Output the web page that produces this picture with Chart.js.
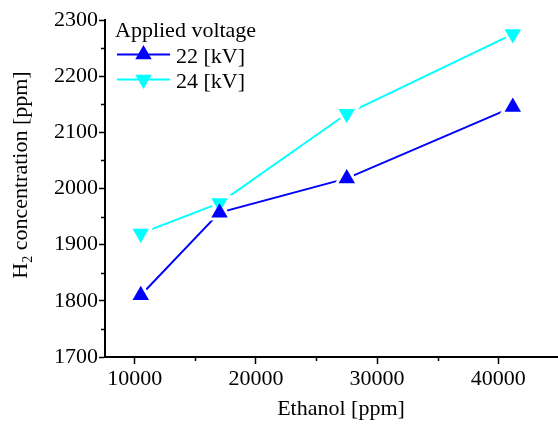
<!DOCTYPE html>
<html>
<head>
<meta charset="utf-8">
<script src="https://cdn.jsdelivr.net/npm/chart.js@4.4.0/dist/chart.umd.min.js"></script>
<style>
  html, body { margin: 0; padding: 0; background: #fff; overflow: hidden; }
  #wrap { width: 558px; height: 425px; }
  #chart { display: block; }
</style>
</head>
<body>
<div id="wrap"><canvas id="chart" width="558" height="425"></canvas></div>
<script>
// Ethanol feed vs. H2 produced, two discharge voltages
const ethanol = [10500, 17000, 27500, 41200];
const h2At22kV = [1810, 1957, 2018, 2145];
const h2At24kV = [1920, 1974, 2133, 2275];
const seriesLabels = ['22 [kV]', '24 [kV]'];
const legendTitle = 'Applied voltage';

const xTicks = [10000, 20000, 30000, 40000];
const yTicks = [1700, 1800, 1900, 2000, 2100, 2200, 2300];
const xMinorTicks = [15000, 25000, 35000];
const yMinorTicks = [1750, 1850, 1950, 2050, 2150, 2250];

const FONT = "'Liberation Serif', 'Times New Roman', serif";
const BLUE = '#0000ff';
const CYAN = '#00ffff';

const toPoints = ys => ys.map((y, i) => ({ x: ethanol[i], y: y }));

// white halo under each marker so the lines stop short of the symbols
const markerGaps = {
  id: 'markerGaps',
  afterDatasetsDraw(chart) {
    const ctx = chart.ctx;
    const metas = chart.getSortedVisibleDatasetMetas();
    ctx.save();
    ctx.fillStyle = '#fff';
    metas.forEach(meta => {
      meta.data.forEach(pt => {
        const o = pt.options;
        Chart.helpers.drawPoint(ctx, {
          pointStyle: o.pointStyle, rotation: o.rotation,
          radius: o.radius + 6, borderWidth: 0
        }, pt.x, pt.y);
      });
    });
    metas.slice().reverse().forEach(meta => {
      meta.data.forEach(pt => pt.draw(ctx, chart.chartArea));
    });
    ctx.restore();
  }
};

const minorTicks = {
  id: 'minorTicks',
  afterDraw(chart) {
    const { ctx, chartArea, scales } = chart;
    ctx.save();
    ctx.strokeStyle = '#000';
    ctx.lineWidth = 1.5;
    ctx.beginPath();
    xMinorTicks.forEach(v => {
      const px = Math.round(scales.x.getPixelForValue(v)) + 0.5;
      ctx.moveTo(px, chartArea.bottom);
      ctx.lineTo(px, chartArea.bottom + 4);
    });
    yMinorTicks.forEach(v => {
      const py = Math.round(scales.y.getPixelForValue(v)) + 0.5;
      ctx.moveTo(chartArea.left, py);
      ctx.lineTo(chartArea.left - 4, py);
    });
    ctx.stroke();
    ctx.restore();
  }
};

const axisTitles = {
  id: 'axisTitles',
  afterDraw(chart) {
    const { ctx } = chart;
    ctx.save();
    ctx.fillStyle = '#000';
    ctx.textBaseline = 'alphabetic';

    // x title
    ctx.font = `22px ${FONT}`;
    ctx.textAlign = 'center';
    ctx.fillText('Ethanol [ppm]', 341, 415);

    // y title with subscript
    const big = `22px ${FONT}`;
    const small = `14px ${FONT}`;
    const rest = ' concentration [ppm]';
    ctx.font = big;
    const wH = ctx.measureText('H').width;
    const wRest = ctx.measureText(rest).width;
    ctx.font = small;
    const w2 = ctx.measureText('2').width;
    const total = wH + w2 + wRest;
    ctx.translate(27, 175);
    ctx.rotate(-Math.PI / 2);
    ctx.textAlign = 'left';
    let x = -total / 2;
    ctx.font = big;
    ctx.fillText('H', x, 0);
    x += wH;
    ctx.font = small;
    ctx.fillText('2', x, 5);
    x += w2;
    ctx.font = big;
    ctx.fillText(rest, x, 0);
    ctx.restore();
  }
};

const legendBox = {
  id: 'legendBox',
  afterDraw(chart) {
    const { ctx, chartArea } = chart;
    const x0 = chartArea.left + 10;
    ctx.save();
    ctx.font = `22px ${FONT}`;
    ctx.fillStyle = '#000';
    ctx.textBaseline = 'alphabetic';
    ctx.textAlign = 'left';
    ctx.fillText(legendTitle, x0, chartArea.top + 16.5);
    chart.data.datasets.forEach((ds, i) => {
      const y = chartArea.top + 34.5 + i * 25;
      ctx.strokeStyle = ds.borderColor;
      ctx.lineWidth = ds.borderWidth;
      ctx.beginPath();
      ctx.moveTo(x0 + 2, y);
      ctx.lineTo(x0 + 55, y);
      ctx.stroke();
      ctx.fillStyle = ds.pointBackgroundColor;
      Chart.helpers.drawPoint(ctx, {
        pointStyle: 'triangle', rotation: ds.pointRotation,
        radius: ds.pointRadius, borderWidth: 0
      }, x0 + 28.5, y);
      ctx.fillStyle = '#000';
      ctx.fillText(ds.label, x0 + 61, y + 8.7);
    });
    ctx.restore();
  }
};

const tickFont = { family: FONT, size: 22 };

new Chart(document.getElementById('chart'), {
  type: 'line',
  data: {
    datasets: [
      {
        label: seriesLabels[0],
        data: toPoints(h2At22kV),
        borderColor: BLUE,
        borderWidth: 2,
        pointBackgroundColor: BLUE,
        pointBorderWidth: 0,
        pointStyle: 'triangle',
        pointRotation: 0,
        pointRadius: 9.5,
        tension: 0
      },
      {
        label: seriesLabels[1],
        data: toPoints(h2At24kV),
        borderColor: CYAN,
        borderWidth: 2,
        pointBackgroundColor: CYAN,
        pointBorderWidth: 0,
        pointStyle: 'triangle',
        pointRotation: 180,
        pointRadius: 9.5,
        tension: 0
      }
    ]
  },
  options: {
    responsive: false,
    animation: false,
    layout: { autoPadding: false, padding: { top: 20, right: 0, bottom: 0, left: 0 } },
    plugins: {
      legend: { display: false },
      tooltip: { enabled: false }
    },
    scales: {
      x: {
        type: 'linear',
        min: 7550,
        max: 44930,
        afterBuildTicks: s => { s.ticks = xTicks.map(v => ({ value: v })); },
        afterFit: s => { s.height = 68; s.paddingLeft = 0; s.paddingRight = 0; },
        grid: { drawOnChartArea: false, drawTicks: true, tickLength: 7, tickWidth: 1.5, tickColor: '#000' },
        border: { display: true, color: '#000', width: 2 },
        ticks: { font: tickFont, color: '#000', padding: 2, maxRotation: 0, autoSkip: false, callback: v => String(v) }
      },
      y: {
        type: 'linear',
        min: 1700,
        max: 2300,
        afterBuildTicks: s => { s.ticks = yTicks.map(v => ({ value: v })); },
        afterFit: s => { s.width = 105; s.paddingTop = 0; s.paddingBottom = 0; },
        grid: { drawOnChartArea: false, drawTicks: true, tickLength: 6, tickWidth: 1.5, tickColor: '#000' },
        border: { display: true, color: '#000', width: 2 },
        ticks: { font: tickFont, color: '#000', padding: 1, autoSkip: false, callback: v => String(v) }
      }
    }
  },
  plugins: [markerGaps, minorTicks, axisTitles, legendBox]
});
</script>
</body>
</html>
